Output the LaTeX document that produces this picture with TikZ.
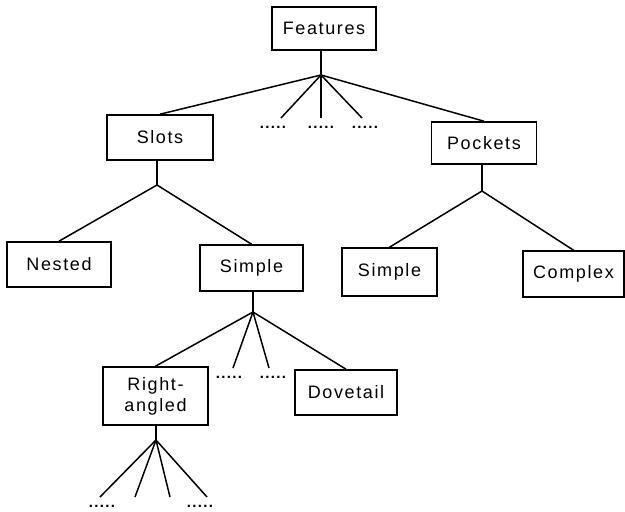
\documentclass[tikz,border=0pt]{standalone}
\usepackage{fontspec}
\setmainfont{Liberation Sans}[LetterSpace=9]
\usetikzlibrary{calc}
\tikzset{
  box/.style={draw, line width=1.6pt, rectangle, inner sep=0pt, align=center,
              font=\fontsize{18}{21}\selectfont},
  branch/.style={line width=1.5pt},
  more/.style={inner sep=0pt, font=\fontsize{15}{15}\selectfont\bfseries}
}
\begin{document}
\begin{tikzpicture}[x=1pt,y=-1pt]
\useasboundingbox (0,0) rectangle (625,512);

% classification boxes
\node[box, minimum width=104pt, minimum height=43pt] (features) at (324,28.5) {Features};
\node[box, minimum width=106pt, minimum height=45pt] (slots)    at (160,137.5) {Slots};
\node[box, minimum width=105pt, minimum height=42pt] (pockets)  at (484,143) {Pockets};
\node[box, minimum width=104pt, minimum height=45pt] (nested)   at (59,264.5) {Nested};
\node[box, minimum width=103pt, minimum height=46pt] (ssimple)  at (251.5,268) {Simple};
\node[box, minimum width=95pt,  minimum height=48pt] (psimple)  at (389.5,272) {Simple};
\node[box, minimum width=101pt, minimum height=46pt] (complex)  at (573.5,274) {Complex};
\node[box, minimum width=105pt, minimum height=58pt] (right)    at (155.5,396) {Right-\\angled};
\node[box, minimum width=102pt, minimum height=45pt] (dovetail) at (346,392.5) {Dovetail};

% branching points
\coordinate (j0) at (321,75);
\coordinate (j1) at (157,185);
\coordinate (j2) at (482,191);
\coordinate (j3) at (253,312);
\coordinate (j4) at (156,440);

% "more" placeholders
\node[more] (m1) at (273,127) {.....};
\node[more] (m2) at (321,127) {.....};
\node[more] (m3) at (365,127) {.....};
\node[more] (m4) at (229,377) {.....};
\node[more] (m5) at (273,377) {.....};
\node[more] (m6) at (102,506) {.....};
\node[more] (m7) at (200,506) {.....};

% free ends of the open branches
\coordinate (e1) at (281,118);
\coordinate (e2) at (321,118);
\coordinate (e3) at (362,118);
\coordinate (e4) at (233,368);
\coordinate (e5) at (269,368);
\coordinate (e6) at (100,497);
\coordinate (e7) at (135,497);
\coordinate (e8) at (170,497);
\coordinate (e9) at (207,497);

% stems
\draw[branch] (j0 |- features.south) -- (j0);
\draw[branch] (j1 |- slots.south) -- (j1);
\draw[branch] (j2 |- pockets.south) -- (j2);
\draw[branch] (j3 |- ssimple.south) -- (j3);
\draw[branch] (j4 |- right.south) -- (j4);

% branches
\draw[branch] (j0) -- (slots.north);
\draw[branch] (j0) -- (pockets.north);
\draw[branch] (j0) -- (e1);
\draw[branch] (j0) -- (e2);
\draw[branch] (j0) -- (e3);

\draw[branch] (j1) -- (nested.north);
\draw[branch] (j1) -- (ssimple.north);

\draw[branch] (j2) -- (psimple.north);
\draw[branch] (j2) -- (complex.north);

\draw[branch] (j3) -- (right.north);
\draw[branch] (j3) -- (e4);
\draw[branch] (j3) -- (e5);
\draw[branch] (j3) -- (dovetail.north);

\draw[branch] (j4) -- (e6);
\draw[branch] (j4) -- (e7);
\draw[branch] (j4) -- (e8);
\draw[branch] (j4) -- (e9);
\end{tikzpicture}
\end{document}
